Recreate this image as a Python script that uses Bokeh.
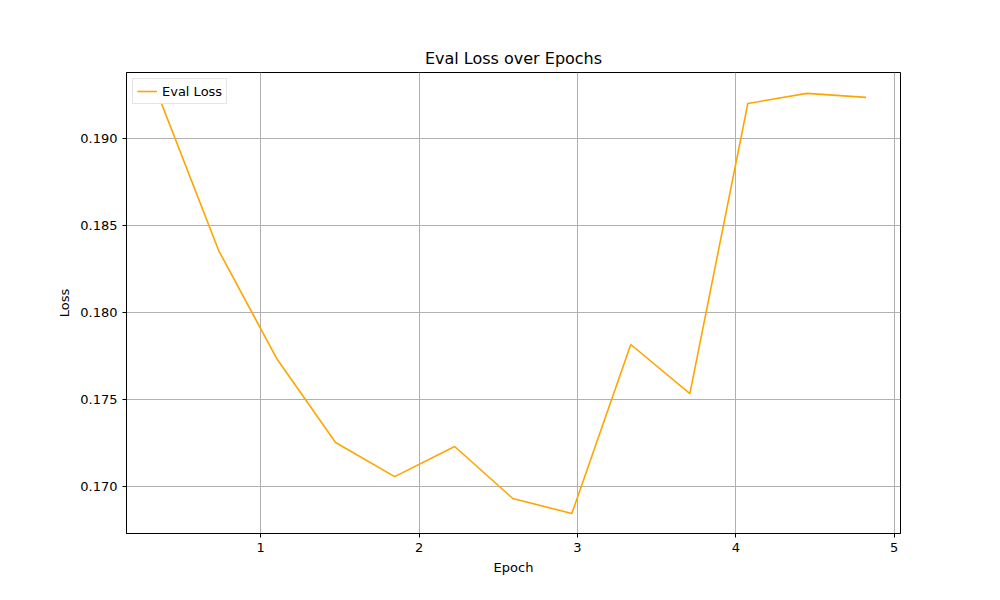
from bokeh.plotting import figure
from bokeh.models import Range1d, FixedTicker, NumeralTickFormatter
from bokeh.embed import file_html
from bokeh.resources import INLINE

epochs = [0.349, 0.735, 1.101, 1.473, 1.846, 2.225, 2.592, 2.965, 3.337, 3.710, 4.076, 4.449, 4.822]
eval_loss = [0.19259, 0.18356, 0.17736, 0.17253, 0.17057, 0.17230, 0.16931, 0.16845,
             0.17816, 0.17534, 0.19201, 0.19259, 0.19236]
x_ticks = [1, 2, 3, 4, 5]
y_ticks = [0.170, 0.175, 0.180, 0.185, 0.190]

p = figure(width=984, height=584, output_backend="svg", toolbar_location=None,
           title="Eval Loss over Epochs",
           x_range=Range1d(0.153, 5.04), y_range=Range1d(0.1673, 0.19379),
           min_border_left=126, min_border_right=84, min_border_top=72, min_border_bottom=51)

p.line(epochs, eval_loss, color="orange", line_width=1.6, legend_label="Eval Loss")

p.title.align = "center"
p.title.text_font = "DejaVu Sans"
p.title.text_font_size = "16px"
p.title.text_font_style = "normal"
p.title.text_color = "black"

p.xaxis.axis_label = "Epoch"
p.yaxis.axis_label = "Loss"
p.xaxis.ticker = FixedTicker(ticks=x_ticks)
p.yaxis.ticker = FixedTicker(ticks=y_ticks)
p.yaxis.formatter = NumeralTickFormatter(format="0.000")
for ax in (p.xaxis, p.yaxis):
    ax.axis_label_text_font = "DejaVu Sans"
    ax.axis_label_text_font_style = "normal"
    ax.axis_label_text_font_size = "13px"
    ax.axis_label_text_color = "black"
    ax.major_label_text_font = "DejaVu Sans"
    ax.major_label_text_font_size = "13px"
    ax.major_label_text_color = "black"
    ax.minor_tick_line_color = None
    ax.major_tick_in = 0
    ax.major_tick_out = 4
    ax.axis_line_color = "black"
p.xgrid.ticker = FixedTicker(ticks=x_ticks)
p.ygrid.ticker = FixedTicker(ticks=y_ticks)
p.grid.grid_line_color = "#b0b0b0"
p.grid.grid_line_width = 1
p.outline_line_color = "black"
p.outline_line_alpha = 1

p.legend.location = "top_left"
p.legend.label_text_font = "DejaVu Sans"
p.legend.label_text_font_size = "13px"
p.legend.label_text_color = "black"
p.legend.border_line_color = "#cccccc"
p.legend.margin = 6
p.legend.padding = 4
p.legend.spacing = 0
p.legend.glyph_height = 16
p.legend.label_height = 16

open("out.html", "w").write(file_html(p, INLINE))
